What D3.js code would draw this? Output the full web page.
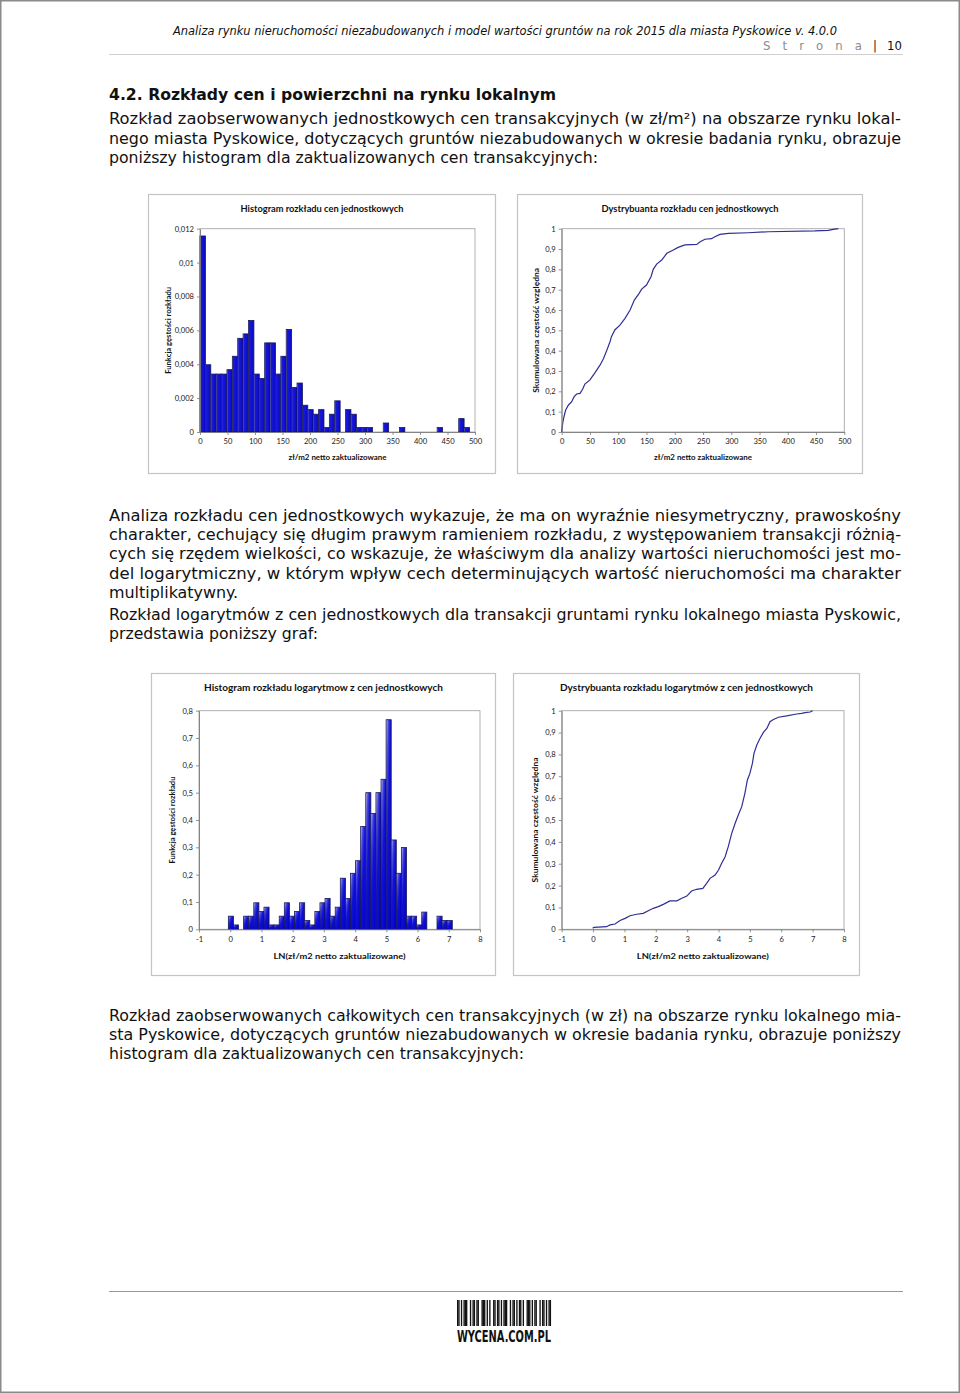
<!DOCTYPE html>
<html>
<head>
<meta charset="utf-8">
<script src="https://cdn.jsdelivr.net/npm/d3@7"></script>
<style>
  html, body { margin: 0; padding: 0; background: #fff; }
  svg { display: block; }
</style>
</head>
<body>
<svg id="page" width="960" height="1393"></svg>
<script>
// ---------------- DATA ----------------
// Histogram of unit prices (density), bins of equal width starting at 0
const priceBinStart = 0;
const priceBinWidth = 9.8;
const priceDensity = [
  0.01157, 0.00397, 0.00342, 0.00342, 0.00342, 0.00368, 0.00447, 0.00553, 0.00579, 0.00658,
  0.00342, 0.00316, 0.00526, 0.00526, 0.00342, 0.00447, 0.00605, 0.00263, 0.00289, 0.00158,
  0.00132, 0.00105, 0.00132, 0.00026, 0.00105, 0.00184, 0, 0.00132, 0.00105, 0.00026,
  0.00026, 0.00026, 0, 0, 0.00053, 0, 0, 0.00026, 0, 0,
  0, 0, 0, 0, 0.00026, 0, 0, 0, 0.00079, 0.00026
];
const priceXTicks = [0, 50, 100, 150, 200, 250, 300, 350, 400, 450, 500];
const priceHistYTicks = [0, 0.002, 0.004, 0.006, 0.008, 0.01, 0.012];

// Cumulative distribution of unit prices
const priceCdfX = [0, 1.8, 4, 7, 12, 17.7, 22, 26.5, 32.4, 37, 41, 50, 59, 68, 74, 80, 85.5, 88, 94, 103,
  112, 121, 128.5, 137, 141.5, 150, 158, 162, 168, 177, 186, 197.5, 206, 218, 239, 245, 253.5, 265, 271, 280,
  295, 330, 365.5, 448, 471.7, 480.5, 489.4];
const priceCdfY = [0, 0.043, 0.075, 0.108, 0.133, 0.149, 0.174, 0.187, 0.19, 0.21, 0.236, 0.256, 0.292, 0.33, 0.362, 0.403, 0.444, 0.469, 0.502, 0.526,
  0.559, 0.6, 0.649, 0.682, 0.703, 0.723, 0.764, 0.8, 0.826, 0.846, 0.879, 0.895, 0.908, 0.92, 0.923, 0.936, 0.948, 0.951, 0.96, 0.972,
  0.977, 0.98, 0.985, 0.989, 0.992, 0.997, 1.0];
const cdfYTicks = [0, 0.1, 0.2, 0.3, 0.4, 0.5, 0.6, 0.7, 0.8, 0.9, 1];

// Histogram of log unit prices (density)
const logBinStart = -0.06;
const logBinWidth = 0.163;
const logDensity = [
  0.048, 0.016, 0, 0.048, 0.048, 0.097, 0.065, 0.081, 0.016, 0.016,
  0.048, 0.097, 0.048, 0.065, 0.097, 0.032, 0.016, 0.065, 0.097, 0.113,
  0.048, 0.081, 0.187, 0.113, 0.205, 0.251, 0.376, 0.5, 0.424, 0.5,
  0.549, 0.767, 0.327, 0.205, 0.299, 0.048, 0.048, 0.016, 0.063, 0,
  0, 0.048, 0.032, 0.032
];
const logXTicks = [-1, 0, 1, 2, 3, 4, 5, 6, 7, 8];
const logHistYTicks = [0, 0.1, 0.2, 0.3, 0.4, 0.5, 0.6, 0.7, 0.8];

// Cumulative distribution of log unit prices
const logCdfX = [-0.012, 0.03, 0.43, 0.54, 0.70, 0.86, 1.02, 1.18, 1.39, 1.60, 1.76, 1.92, 2.08, 2.24, 2.45, 2.67, 2.83, 2.99, 3.14, 3.30,
  3.50, 3.62, 3.73, 3.89, 4.0, 4.1, 4.21, 4.31, 4.42, 4.53, 4.63, 4.74, 4.84, 4.92, 5.0, 5.08, 5.13, 5.22, 5.32, 5.43,
  5.54, 5.64, 5.75, 5.91, 6.17, 6.49, 6.65, 6.76, 6.92, 7.0];
const logCdfY = [0.005, 0.009, 0.012, 0.02, 0.024, 0.04, 0.05, 0.062, 0.069, 0.073, 0.085, 0.096, 0.104, 0.114, 0.13, 0.13, 0.142, 0.152, 0.175, 0.183,
  0.187, 0.21, 0.233, 0.248, 0.271, 0.302, 0.332, 0.378, 0.439, 0.485, 0.523, 0.561, 0.622, 0.683, 0.713, 0.759, 0.805, 0.843, 0.873, 0.901,
  0.919, 0.95, 0.96, 0.97, 0.976, 0.985, 0.988, 0.991, 0.994, 1.0];

// Texts
const headerText = "Analiza rynku nieruchomości niezabudowanych i model wartości gruntów na rok 2015 dla miasta Pyskowice v. 4.0.0";
const pageWord = "Strona";
const pageNumber = "10";
const headingText = "4.2. Rozkłady cen i powierzchni na rynku lokalnym";
const para1 = [
  "Rozkład zaobserwowanych jednostkowych cen transakcyjnych (w zł/m²) na obszarze rynku lokal-",
  "nego miasta Pyskowice, dotyczących gruntów niezabudowanych w okresie badania rynku, obrazuje",
  "poniższy histogram dla zaktualizowanych cen transakcyjnych:"
];
const para2 = [
  "Analiza rozkładu cen jednostkowych wykazuje, że ma on wyraźnie niesymetryczny, prawoskośny",
  "charakter, cechujący się długim prawym ramieniem rozkładu, z występowaniem transakcji różnią-",
  "cych się rzędem wielkości, co wskazuje, że właściwym dla analizy wartości nieruchomości jest mo-",
  "del logarytmiczny, w którym wpływ cech determinujących wartość nieruchomości ma charakter",
  "multiplikatywny."
];
const para3 = [
  "Rozkład logarytmów z cen jednostkowych dla transakcji gruntami rynku lokalnego miasta Pyskowic,",
  "przedstawia poniższy graf:"
];
const para4 = [
  "Rozkład zaobserwowanych całkowitych cen transakcyjnych (w zł) na obszarze rynku lokalnego mia-",
  "sta Pyskowice, dotyczących gruntów niezabudowanych w okresie badania rynku, obrazuje poniższy",
  "histogram dla zaktualizowanych cen transakcyjnych:"
];
const chartTitles = [
  "Histogram rozkładu cen jednostkowych",
  "Dystrybuanta  rozkładu cen jednostkowych",
  "Histogram rozkładu logarytmow z cen jednostkowych",
  "Dystrybuanta rozkładu logarytmów z cen jednostkowych"
];
const xTitlePrice = "zł/m2 netto zaktualizowane";
const xTitleLog = "LN(zł/m2 netto zaktualizowane)";
const yTitleHist = "Funkcja gęstości rozkładu";
const yTitleCdf = "Skumulowana  częstość względna";
const logoText = "WYCENA.COM.PL";
const barcodePattern = "1101011100101101100111010100110110101110010110101101001110101100101101011";

// ---------------- DRAWING ----------------
const svg = d3.select("#page");
const W = 960, H = 1393;
const bodyFont = "'DejaVu Sans Condensed', 'DejaVu Sans', sans-serif";
const chartFont = "Lato, 'Open Sans', sans-serif";

svg.append("rect").attr("x", 0.75).attr("y", 0.75).attr("width", W - 1.5).attr("height", H - 1.5)
  .attr("fill", "#fff").attr("stroke", "#8a8a8a").attr("stroke-width", 1.5);

const defs = svg.append("defs");
const gTL = defs.append("linearGradient").attr("id", "barSolid").attr("x1", 0).attr("y1", 0).attr("x2", 1).attr("y2", 0);
[[0, "#a8a8f2"], [0.18, "#1a1ad6"], [1, "#0808c8"]].forEach(s => gTL.append("stop").attr("offset", s[0]).attr("stop-color", s[1]));
const gBL = defs.append("linearGradient").attr("id", "barGrad").attr("x1", 0).attr("y1", 0).attr("x2", 1).attr("y2", 1);
[[0, "#d4d4f4"], [0.22, "#4848e2"], [0.45, "#1212d4"], [1, "#0000c6"]].forEach(s => gBL.append("stop").attr("offset", s[0]).attr("stop-color", s[1]));

// Header
svg.append("text").attr("x", 173).attr("y", 35).text(headerText)
  .attr("font-family", bodyFont).attr("font-style", "italic").attr("font-size", 11.5).attr("fill", "#111")
  .attr("textLength", 664).attr("lengthAdjust", "spacingAndGlyphs");
svg.append("text").attr("x", 763).attr("y", 50).text(pageWord)
  .attr("font-family", bodyFont).attr("font-size", 13).attr("fill", "#8c8c8c")
  .attr("textLength", 99).attr("lengthAdjust", "spacing");
svg.append("text").attr("x", 873).attr("y", 50).text("|")
  .attr("font-family", bodyFont).attr("font-size", 13).attr("fill", "#222");
svg.append("text").attr("x", 902).attr("y", 50).attr("text-anchor", "end").text(pageNumber)
  .attr("font-family", bodyFont).attr("font-size", 13).attr("fill", "#111");
svg.append("line").attr("x1", 109).attr("x2", 903).attr("y1", 54.5).attr("y2", 54.5)
  .attr("stroke", "#d0d0d0").attr("stroke-width", 1);

// Heading
svg.append("text").attr("x", 109).attr("y", 100).text(headingText)
  .attr("font-family", bodyFont).attr("font-weight", "bold").attr("font-size", 15.5).attr("fill", "#111")
  .attr("textLength", 447).attr("lengthAdjust", "spacingAndGlyphs");

// Paragraph helper
function paragraph(lines, y0, lh, lastWidth) {
  lines.forEach((t, i) => {
    const el = svg.append("text").attr("x", 109).attr("y", y0 + i * lh).text(t)
      .attr("font-family", bodyFont).attr("font-size", 15.5).attr("fill", "#111");
    const isLast = i === lines.length - 1;
    el.attr("textLength", isLast ? lastWidth : 792).attr("lengthAdjust", "spacingAndGlyphs");
  });
}
paragraph(para1, 124, 19.5, 489);
paragraph(para2, 521, 19.2, 129);
paragraph(para3, 620, 19.2, 209);
paragraph(para4, 1021, 19.2, 415);

// Chart helper
function fmt(d) { return d === 0 ? "0" : String(d).replace(".", ","); }

function chart(cfg) {
  const g = svg.append("g");
  const [bx0, by0, bx1, by1] = cfg.box;
  g.append("rect").attr("x", bx0 + 0.5).attr("y", by0 + 0.5).attr("width", bx1 - bx0).attr("height", by1 - by0)
    .attr("fill", "#fff").attr("stroke", "#c4c4c4").attr("stroke-width", 1.2);
  const [px0, px1, py0, py1] = cfg.plot;
  const x = d3.scaleLinear().domain(cfg.xDomain).range([px0, px1]);
  const y = d3.scaleLinear().domain(cfg.yDomain).range([py1, py0]);
  g.append("rect").attr("x", px0).attr("y", py0).attr("width", px1 - px0).attr("height", py1 - py0)
    .attr("fill", "none").attr("stroke", "#a8a8a8").attr("stroke-width", 0.9);
  cfg.draw(g, x, y);
  const ax = g.append("g").attr("transform", `translate(0,${py1})`)
    .call(d3.axisBottom(x).tickValues(cfg.xTicks).tickFormat(fmt).tickSize(3).tickSizeOuter(0).tickPadding(4));
  const ay = g.append("g").attr("transform", `translate(${px0},0)`)
    .call(d3.axisLeft(y).tickValues(cfg.yTicks).tickFormat(fmt).tickSize(3).tickSizeOuter(0).tickPadding(3));
  [ax, ay].forEach(a => {
    a.select(".domain").attr("stroke", "#7a7a7a").attr("stroke-width", 0.9);
    a.selectAll(".tick line").attr("stroke", "#7a7a7a").attr("stroke-width", 0.8);
    a.selectAll(".tick text").attr("font-family", chartFont).attr("font-size", 7.6).attr("fill", "#222");
  });
  g.append("text").attr("x", (bx0 + bx1) / 2 + 0.5).attr("y", by0 + 18).attr("text-anchor", "middle")
    .text(cfg.title).attr("font-family", chartFont).attr("font-weight", "bold").attr("font-size", 8.8).attr("fill", "#111")
    .attr("textLength", cfg.titleW).attr("lengthAdjust", "spacingAndGlyphs");
  g.append("text").attr("x", (px0 + px1) / 2).attr("y", cfg.xTitleY).attr("text-anchor", "middle")
    .text(cfg.xTitle).attr("font-family", chartFont).attr("font-weight", "bold").attr("font-size", 8).attr("fill", "#111")
    .attr("textLength", cfg.xTitleW).attr("lengthAdjust", "spacingAndGlyphs");
  g.append("text").attr("transform", `translate(${cfg.yTitleX},${(py0 + py1) / 2}) rotate(-90)`).attr("text-anchor", "middle")
    .text(cfg.yTitle).attr("font-family", chartFont).attr("font-weight", "bold").attr("font-size", 8).attr("fill", "#111")
    .attr("textLength", cfg.yTitleW).attr("lengthAdjust", "spacingAndGlyphs");
}

function histDraw(density, start, width, fill) {
  return (g, x, y) => {
    const bins = density.map((d, i) => ({ x0: start + i * width, x1: start + (i + 1) * width, d }));
    g.append("g").selectAll("rect").data(bins.filter(b => b.d > 0)).join("rect")
      .attr("x", b => x(b.x0)).attr("width", b => x(b.x1) - x(b.x0))
      .attr("y", b => y(b.d)).attr("height", b => y(0) - y(b.d))
      .attr("fill", fill).attr("stroke", "#16165a").attr("stroke-width", 0.8);
  };
}
function cdfDraw(xs, ys) {
  return (g, x, y) => {
    const pts = xs.map((v, i) => [v, ys[i]]);
    g.append("path").datum(pts)
      .attr("d", d3.line().x(p => x(p[0])).y(p => y(p[1])))
      .attr("fill", "none").attr("stroke", "#2e2e96").attr("stroke-width", 1.2);
  };
}

chart({
  box: [148, 194, 495, 473], plot: [200, 475, 228.7, 432],
  xDomain: [0, 500], yDomain: [0, 0.012], xTicks: priceXTicks, yTicks: priceHistYTicks,
  title: chartTitles[0], titleW: 163, xTitle: xTitlePrice, xTitleW: 98, xTitleY: 460,
  yTitle: yTitleHist, yTitleW: 87, yTitleX: 170.5,
  draw: histDraw(priceDensity, priceBinStart, priceBinWidth, "url(#barSolid)")
});
chart({
  box: [517, 194, 862, 473], plot: [561.7, 844.3, 228.7, 432],
  xDomain: [0, 500], yDomain: [0, 1], xTicks: priceXTicks, yTicks: cdfYTicks,
  title: chartTitles[1], titleW: 177, xTitle: xTitlePrice, xTitleW: 98, xTitleY: 460,
  yTitle: yTitleCdf, yTitleW: 125, yTitleX: 538.5,
  draw: cdfDraw(priceCdfX, priceCdfY)
});
chart({
  box: [151, 673, 495, 975], plot: [199, 480, 710.7, 929.3],
  xDomain: [-1, 8], yDomain: [0, 0.8], xTicks: logXTicks, yTicks: logHistYTicks,
  title: chartTitles[2], titleW: 239, xTitle: xTitleLog, xTitleW: 132, xTitleY: 959,
  yTitle: yTitleHist, yTitleW: 87, yTitleX: 175,
  draw: histDraw(logDensity, logBinStart, logBinWidth, "url(#barGrad)")
});
chart({
  box: [513, 673, 859, 975], plot: [561.7, 844, 710.7, 929.3],
  xDomain: [-1, 8], yDomain: [0, 1], xTicks: logXTicks, yTicks: cdfYTicks,
  title: chartTitles[3], titleW: 253, xTitle: xTitleLog, xTitleW: 132, xTitleY: 959,
  yTitle: yTitleCdf, yTitleW: 125, yTitleX: 537.5,
  draw: cdfDraw(logCdfX, logCdfY)
});

// Footer
svg.append("line").attr("x1", 109).attr("x2", 903).attr("y1", 1291.5).attr("y2", 1291.5)
  .attr("stroke", "#999").attr("stroke-width", 1);
const mods = barcodePattern.split("");
const bxScale = d3.scaleLinear().domain([0, mods.length]).range([457, 551]);
svg.append("g").selectAll("rect").data(mods.map((m, i) => ({ m, i })).filter(o => o.m === "1")).join("rect")
  .attr("x", o => bxScale(o.i)).attr("width", o => bxScale(o.i + 1) - bxScale(o.i) + 0.05)
  .attr("y", 1300).attr("height", 26).attr("fill", "#111");
svg.append("text").attr("x", 457).attr("y", 1342).text(logoText)
  .attr("font-family", "'Liberation Sans Narrow', 'DejaVu Sans Condensed', sans-serif").attr("font-weight", "bold")
  .attr("font-size", 16).attr("fill", "#111").attr("textLength", 94).attr("lengthAdjust", "spacingAndGlyphs");
</script>
</body>
</html>
